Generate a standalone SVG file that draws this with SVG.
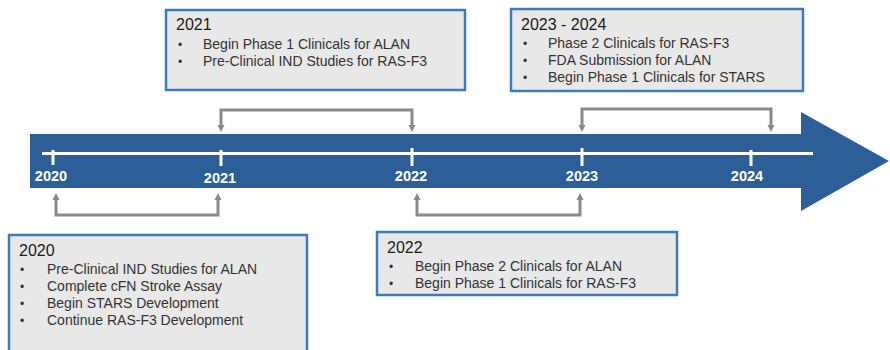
<svg xmlns="http://www.w3.org/2000/svg" width="890" height="350" viewBox="0 0 890 350">
<defs>
<marker id="ah" viewBox="0 0 10 10" refX="0" refY="5" markerWidth="7" markerHeight="9" markerUnits="userSpaceOnUse" orient="auto-start-reverse">
<path d="M0,0 L10,5 L0,10 z" fill="#8a8a8a"/>
</marker>
<style>
.box{fill:#e8e8e8;stroke:#3a7cc0;stroke-width:2.5}
.ttl{font-family:"Liberation Sans",Arial,sans-serif;font-size:16px;fill:#1a1a1a}
.bul{font-family:"Liberation Sans",Arial,sans-serif;font-size:14px;fill:#333333}
.dot{font-family:"Liberation Sans",Arial,sans-serif;font-size:12px;fill:#333333}
.yr{font-family:"Liberation Sans",Arial,sans-serif;font-size:14.5px;font-weight:bold;fill:#ffffff;text-anchor:middle}
.tick{stroke:#ffffff;stroke-width:3}
.con{fill:none;stroke:#8a8a8a;stroke-width:3;marker-start:url(#ah);marker-end:url(#ah)}
</style>
</defs>
<rect width="890" height="350" fill="#ffffff"/>
<g id="timeline">
<path d="M30,134 L801,134 L801,112 L889,161 L801,211 L801,188 L30,188 Z" fill="#2c5e98"/>
<line x1="42" y1="153.5" x2="813" y2="153.5" stroke="#ffffff" stroke-width="3"/>
<line class="tick" x1="53" y1="150" x2="53" y2="165"/>
<line class="tick" x1="221" y1="150" x2="221" y2="166"/>
<line class="tick" x1="412" y1="148" x2="412" y2="166"/>
<line class="tick" x1="582" y1="148" x2="582" y2="166"/>
<line class="tick" x1="751" y1="150" x2="751" y2="166"/>
<text class="yr" x="51" y="181">2020</text>
<text class="yr" x="220" y="183">2021</text>
<text class="yr" x="411" y="181">2022</text>
<text class="yr" x="582" y="181">2023</text>
<text class="yr" x="747" y="181">2024</text>
</g>
<g id="connectors">
<polyline class="con" points="221,125 221,110 412,110 412,125"/>
<polyline class="con" points="582,125 582,109 771,109 771,125"/>
<polyline class="con" points="56,200 56,215 218,215 218,200"/>
<polyline class="con" points="417,200 417,215 580,215 580,200"/>
</g>
<g id="box2021">
<rect class="box" x="166" y="10" width="299" height="80"/>
<text class="ttl" x="176" y="30">2021</text>
<text class="dot" x="178" y="49">•</text><text class="bul" x="203" y="49">Begin Phase 1 Clinicals for ALAN</text>
<text class="dot" x="178" y="66">•</text><text class="bul" x="203" y="66">Pre-Clinical IND Studies for RAS-F3</text>
</g>
<g id="box2023">
<rect class="box" x="511" y="9" width="292" height="82"/>
<text class="ttl" x="521" y="30">2023 - 2024</text>
<text class="dot" x="523" y="48">•</text><text class="bul" x="548" y="48">Phase 2 Clinicals for RAS-F3</text>
<text class="dot" x="523" y="65">•</text><text class="bul" x="548" y="65">FDA Submission for ALAN</text>
<text class="dot" x="523" y="82">•</text><text class="bul" x="548" y="82">Begin Phase 1 Clinicals for STARS</text>
</g>
<g id="box2020">
<rect class="box" x="9" y="235" width="298" height="120"/>
<text class="ttl" x="19" y="256">2020</text>
<text class="dot" x="20" y="274">•</text><text class="bul" x="47" y="274">Pre-Clinical IND Studies for ALAN</text>
<text class="dot" x="20" y="291">•</text><text class="bul" x="47" y="291">Complete cFN Stroke Assay</text>
<text class="dot" x="20" y="308">•</text><text class="bul" x="47" y="308">Begin STARS Development</text>
<text class="dot" x="20" y="325">•</text><text class="bul" x="47" y="325">Continue RAS-F3 Development</text>
</g>
<g id="box2022">
<rect class="box" x="377" y="232" width="300" height="63"/>
<text class="ttl" x="387" y="253">2022</text>
<text class="dot" x="389" y="271">•</text><text class="bul" x="415" y="271">Begin Phase 2 Clinicals for ALAN</text>
<text class="dot" x="389" y="288">•</text><text class="bul" x="415" y="288">Begin Phase 1 Clinicals for RAS-F3</text>
</g>
</svg>
